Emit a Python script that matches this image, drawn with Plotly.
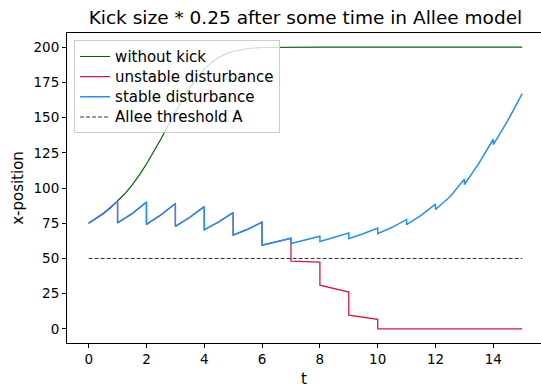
import plotly.graph_objects as go

# Allee model trajectories: undisturbed growth, periodic kicks, and reduced kicks
t_free = [0, 0.25, 0.5, 0.75, 1, 1.25, 1.5, 1.75, 2, 2.25, 2.5, 2.75, 3, 3.25,
          3.5, 3.75, 4, 4.25, 4.5, 4.75, 5, 5.5, 6, 6.5, 7, 8, 9, 10, 11, 12,
          13, 14, 15]
x_free = [75, 78.1, 81.7, 85.8, 90.6, 95.9, 102.1, 109.1, 117.0, 125.6, 134.8,
          144.3, 153.8, 163.0, 171.3, 178.4, 184.4, 189.0, 192.6, 195.2, 197.0,
          199.0, 199.7, 199.9, 200, 200, 200, 200, 200, 200, 200, 200, 200]

# kicked trajectory (stable case): each kick appears as a repeated time
t_stable = [0, 0.5, 1, 1, 1.5, 2, 2, 2.5, 3, 3, 3.5, 4, 4, 4.5, 5, 5, 5.5, 6,
            6, 6.5, 7, 7, 7.5, 8, 8, 8.5, 9, 9, 9.5, 10, 10, 10.5, 11, 11,
            11.5, 12, 12, 12.5, 13, 13, 13.5, 14, 14, 14.5, 15]
x_stable = [75, 81.8, 90.6, 75.2, 81.8, 90.0, 74.2, 80.9, 89.0, 72.8, 79.2,
            86.8, 70.4, 75.9, 82.6, 66.6, 70.7, 75.8, 59.4, 61.7, 64.3,
            60.6, 63.0, 65.7, 62.0, 64.8, 68.0, 64.0, 67.5, 71.6, 67.6, 72.1,
            77.7, 74.0, 80.6, 88.5, 84.7, 93.8, 106.3, 102.5, 117.5, 134.6,
            130.8, 147.8, 167.0]

# unstable case shares the path up to t = 7, then keeps full-size kicks
n_shared = 21
t_unstable_tail = [7, 7.5, 8, 8, 8.5, 9, 9, 9.5, 10, 10, 11, 12, 13, 14, 15]
x_unstable_tail = [48.1, 47.8, 47.4, 31.0, 28.6, 26.1, 9.7, 8.2, 6.8, 0, 0, 0,
                   0, 0, 0]

t_threshold = [0, 15]
allee_A = 50

t_ticks = [0, 2, 4, 6, 8, 10, 12, 14]
x_ticks = [0, 25, 50, 75, 100, 125, 150, 175, 200]

t_unstable = t_stable[:n_shared] + t_unstable_tail
x_unstable = x_stable[:n_shared] + x_unstable_tail


def legend_label(text):
    # slightly larger glyphs than the row height the legend reserves
    return f"<span style='font-size:15px'>{text}</span>"


fig = go.Figure()
fig.add_trace(go.Scatter(x=t_free, y=x_free, mode="lines",
                         name=legend_label("without kick"),
                         line=dict(color="#006400", width=1.2)))
fig.add_trace(go.Scatter(x=t_unstable, y=x_unstable, mode="lines",
                         name=legend_label("unstable disturbance"),
                         line=dict(color="#DC143C", width=1.3)))
fig.add_trace(go.Scatter(x=t_stable, y=x_stable, mode="lines",
                         name=legend_label("stable disturbance"),
                         line=dict(color="#1E90FF", width=1.5)))
fig.add_trace(go.Scatter(x=t_threshold, y=[allee_A] * len(t_threshold),
                         mode="lines", name=legend_label("Allee threshold A"),
                         line=dict(color="#333333", width=1, dash="4px,2px")))

font = "DejaVu Sans"
fig.update_layout(
    width=541, height=390,
    margin=dict(l=67, r=0, t=33, b=47),
    paper_bgcolor="white", plot_bgcolor="white",
    font=dict(family=font, size=13.5, color="black"),
    title=dict(text="Kick size * 0.25 after some time in Allee model",
               font=dict(family=font, size=18.5, color="black"),
               x=0.503, xref="paper", xanchor="center",
               y=1 - 18 / 390, yref="container", yanchor="middle"),
    showlegend=True,
    legend=dict(x=0.015, y=0.976, xanchor="left", yanchor="top",
                bgcolor="rgba(255,255,255,0.8)", bordercolor="#cccccc",
                borderwidth=1, font=dict(family=font, size=13.2),
                tracegroupgap=0),
)
fig.update_xaxes(range=[-0.75, 15.65], tickvals=t_ticks,
                 ticktext=[str(v) for v in t_ticks],
                 showgrid=False, zeroline=False, showline=True, mirror=True,
                 linecolor="black", linewidth=1, ticks="outside", ticklen=4,
                 tickcolor="black", tickfont=dict(family=font, size=13.5),
                 title=dict(text="t", font=dict(family=font, size=15),
                            standoff=7))
fig.update_yaxes(range=[-10, 210], tickvals=x_ticks,
                 ticktext=[str(v) for v in x_ticks],
                 showgrid=False, zeroline=False, showline=True,
                 linecolor="black", linewidth=1, ticks="outside", ticklen=4,
                 tickcolor="black", tickfont=dict(family=font, size=13.5),
                 title=dict(text="x-position", font=dict(family=font, size=15),
                            standoff=6))

fig.write_html("out.html")
